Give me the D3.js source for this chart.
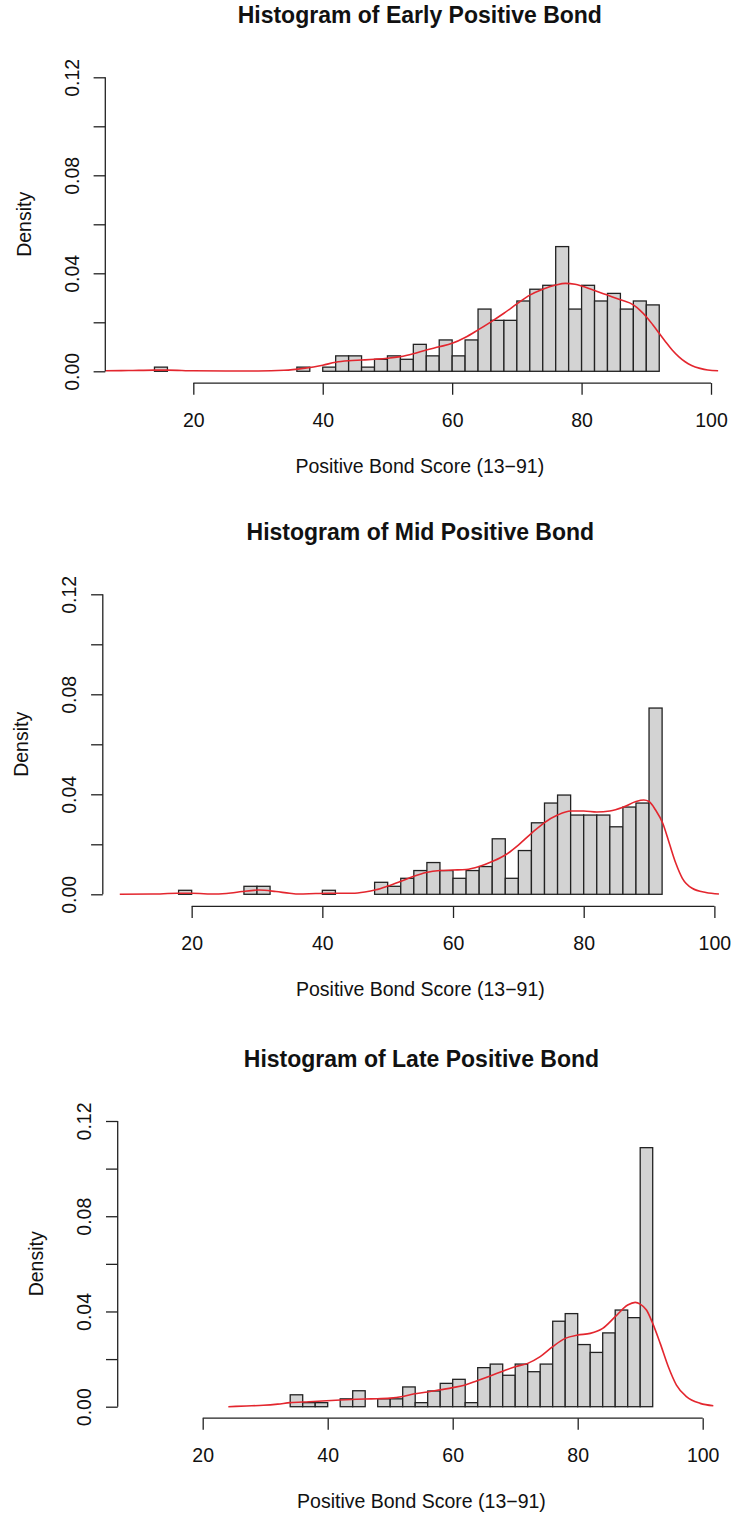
<!DOCTYPE html>
<html>
<head>
<meta charset="utf-8">
<script src="https://cdn.jsdelivr.net/npm/d3@7"></script>
<style>
  html, body { margin: 0; padding: 0; background: #fff; }
  svg { display: block; }
</style>
</head>
<body>
<svg id="chart" width="732" height="1515"></svg>
<script>
// ---- Histogram data: density of each 2-point bin, starting at the given left edge ----
const binWidth = 2;

const earlyBinStart = 14;
const earlyDensity = [
  0.0017, 0, 0, 0, 0, 0, 0, 0, 0, 0, 0,          // 14 .. 36
  0.0017, 0, 0.0017, 0.0063, 0.0063, 0.0017,      // 36 .. 48
  0.0049, 0.0063, 0.0049, 0.0110, 0.0063, 0.0128, // 48 .. 60
  0.0063, 0.0128, 0.0254, 0.0208, 0.0208, 0.0287, // 60 .. 72
  0.0335, 0.0351, 0.0509, 0.0254, 0.0351, 0.0287, // 72 .. 84
  0.0318, 0.0254, 0.0287, 0.0271                  // 84 .. 92
];

const midBinStart = 18;
const midDensity = [
  0.0016, 0, 0, 0, 0, 0.0032, 0.0032,             // 18 .. 32
  0, 0, 0, 0, 0.0016, 0, 0, 0,                    // 32 .. 48
  0.0048, 0.0032, 0.0064, 0.0095, 0.0127, 0.0095, // 48 .. 60
  0.0064, 0.0095, 0.0111, 0.0222, 0.0064, 0.0175, // 60 .. 72
  0.0286, 0.0365, 0.0397, 0.0317, 0.0317, 0.0317, // 72 .. 84
  0.0270, 0.0349, 0.0365, 0.0745                  // 84 .. 92
];

const lateBinStart = 34;
const lateDensity = [
  0.0050, 0.0017, 0.0017, 0, 0.0033, 0.0067, 0,   // 34 .. 48
  0.0033, 0.0033, 0.0083, 0.0017, 0.0066, 0.0098, // 48 .. 60
  0.0115, 0.0017, 0.0164, 0.0179, 0.0132, 0.0179, // 60 .. 72
  0.0147, 0.0179, 0.0359, 0.0391, 0.0261, 0.0228, // 72 .. 84
  0.0310, 0.0406, 0.0374, 0.1088                  // 84 .. 92
];

// ---- Kernel density estimates (score, density) ----
const earlyCurveX = [6.4, 10, 14, 16, 20, 25, 30, 34, 37, 40, 42, 44, 46, 48, 50, 52, 54, 56, 58, 60,
  62, 64, 66, 68, 70, 72, 74, 76, 77.5, 79, 80, 82, 84, 86, 88, 89, 90, 91, 92, 93, 94, 95, 96, 97, 98.3, 99.5, 101.1];
const earlyCurveY = [0.0002, 0.0003, 0.0005, 0.0005, 0.0002, 0.0001, 0.0001, 0.0004, 0.0012, 0.0025, 0.0037,
  0.0043, 0.0046, 0.0049, 0.0053, 0.0060, 0.0072, 0.0087, 0.0100, 0.0114, 0.0138, 0.0169, 0.0202, 0.0237,
  0.0275, 0.0311, 0.0335, 0.0352, 0.0359, 0.0355, 0.0348, 0.0330, 0.0311, 0.0292, 0.0271, 0.0250, 0.0223,
  0.0190, 0.0155, 0.0120, 0.0087, 0.0060, 0.0039, 0.0024, 0.0012, 0.0005, 0.0002];

const midCurveX = [9, 14, 17.8, 20, 23.7, 26, 27.7, 30.3, 32.9, 35, 36.4, 39, 41, 44.6, 46.5, 48.2, 50, 51.9,
  54, 55.9, 58, 60, 62, 64, 66, 68, 70, 72, 74, 76, 78, 80, 82, 84, 86, 88, 89.2, 90, 91, 92.1, 93.1, 94.1,
  95.1, 96.6, 98.7, 100.7];
const midCurveY = [0.0000, 0.0001, 0.0004, 0.0004, 0.0001, 0.0005, 0.0011, 0.0017, 0.0011, 0.0004, 0.0001,
  0.0003, 0.0004, 0.0004, 0.0009, 0.0018, 0.0033, 0.0051, 0.0072, 0.0087, 0.0095, 0.0097, 0.0099, 0.0111,
  0.0131, 0.0157, 0.0197, 0.0244, 0.0287, 0.0317, 0.0333, 0.0333, 0.0329, 0.0333, 0.0348, 0.0371, 0.0377,
  0.0371, 0.0337, 0.0284, 0.0204, 0.0124, 0.0064, 0.0024, 0.0007, 0.0001];

const lateCurveX = [24.1, 27, 29.7, 32, 34, 37, 39.8, 42, 44.6, 47, 50, 52, 53.7, 56, 58, 60, 62, 64, 66, 68,
  70, 72, 74, 76, 78, 80, 82, 84, 86, 88, 89.2, 90, 91, 92, 93.2, 94.5, 95.8, 97.4, 99.6, 101.7];
const lateCurveY = [0.0000, 0.0003, 0.0006, 0.0011, 0.0017, 0.0021, 0.0025, 0.0028, 0.0031, 0.0033, 0.0036,
  0.0043, 0.0053, 0.0062, 0.0071, 0.0080, 0.0091, 0.0110, 0.0129, 0.0149, 0.0168, 0.0182, 0.0210, 0.0252,
  0.0287, 0.0301, 0.0308, 0.0329, 0.0378, 0.0427, 0.0438, 0.0431, 0.0406, 0.0350, 0.0266, 0.0168, 0.0091,
  0.0042, 0.0014, 0.0004];

// ---- Axes ----
const xTicks = [20, 40, 60, 80, 100];
const yTicks = [0, 0.02, 0.04, 0.06, 0.08, 0.10, 0.12];
const yLabelTicks = [0, 0.04, 0.08, 0.12];
const xLimits = [10, 100];
const yLimits = [0, 0.12];
const xTitle = "Positive Bond Score (13\u221291)";
const yTitle = "Density";

// ---- Panel placement ----
const panels = [
  { title: "Histogram of Early Positive Bond", start: earlyBinStart, dens: earlyDensity,
    cx: earlyCurveX, cy: earlyCurveY, left: 105.3, right: 734.3, zeroY: 371.3, topY: 77.3 },
  { title: "Histogram of Mid Positive Bond", start: midBinStart, dens: midDensity,
    cx: midCurveX, cy: midCurveY, left: 102.8, right: 737.9, zeroY: 894.3, topY: 594.3 },
  { title: "Histogram of Late Positive Bond", start: lateBinStart, dens: lateDensity,
    cx: lateCurveX, cy: lateCurveY, left: 117.7, right: 725.2, zeroY: 1406.7, topY: 1121 }
];

const FONT = "'Liberation Sans', Arial, Helvetica, sans-serif";
const svg = d3.select("#chart");

panels.forEach(p => {
  // plot region padded by 4% on each side of the limits
  const xPad = (xLimits[1] - xLimits[0]) * 0.04;
  const yPad = (yLimits[1] - yLimits[0]) * 0.04;
  const x = d3.scaleLinear()
    .domain([xLimits[0] - xPad, xLimits[1] + xPad])
    .range([p.left, p.right]);
  const yBase = d3.scaleLinear().domain(yLimits).range([p.zeroY, p.topY]);
  const y = d3.scaleLinear()
    .domain([yLimits[0] - yPad, yLimits[1] + yPad])
    .range([yBase(yLimits[0] - yPad), yBase(yLimits[1] + yPad)]);

  const plotBottom = y.range()[0];
  const plotTop = y.range()[1];
  const g = svg.append("g");

  // histogram bars
  const bins = p.dens.map((d, i) => ({ x0: p.start + i * binWidth, x1: p.start + (i + 1) * binWidth, d }));
  g.append("g").selectAll("rect").data(bins).join("rect")
    .attr("x", b => x(b.x0))
    .attr("y", b => y(b.d))
    .attr("width", b => x(b.x1) - x(b.x0))
    .attr("height", b => y(0) - y(b.d))
    .attr("fill", "#d3d3d3")
    .attr("stroke", "#222")
    .attr("stroke-width", 1.3);

  // density curve
  const pts = p.cx.map((v, i) => [v, p.cy[i]]);
  g.append("path")
    .datum(pts)
    .attr("fill", "none")
    .attr("stroke", "#e3262e")
    .attr("stroke-width", 1.6)
    .attr("d", d3.line().x(d => x(d[0])).y(d => y(d[1])).curve(d3.curveMonotoneX));

  // x axis
  const xAxis = g.append("g")
    .attr("transform", `translate(0,${plotBottom})`)
    .call(d3.axisBottom(x).tickValues(xTicks).tickSize(11.7).tickSizeOuter(0).tickFormat(d3.format("d")));
  xAxis.select(".domain").remove();
  xAxis.append("line")
    .attr("x1", x(xTicks[0])).attr("x2", x(xTicks[xTicks.length - 1]))
    .attr("stroke", "#222").attr("stroke-width", 1.3);
  xAxis.selectAll(".tick line").attr("stroke", "#222").attr("stroke-width", 1.3);
  xAxis.selectAll(".tick text")
    .attr("y", 44).attr("dy", null)
    .attr("fill", "#111")
    .style("font-family", FONT).style("font-size", "19.5px");

  // y axis
  const yAxis = g.append("g")
    .attr("transform", `translate(${p.left},0)`)
    .call(d3.axisLeft(y).tickValues(yTicks).tickSize(11.7).tickSizeOuter(0)
      .tickFormat(v => yLabelTicks.some(t => Math.abs(t - v) < 1e-9) ? d3.format(".2f")(v) : ""));
  yAxis.select(".domain").remove();
  yAxis.append("line")
    .attr("y1", y(yTicks[0])).attr("y2", y(yTicks[yTicks.length - 1]))
    .attr("stroke", "#222").attr("stroke-width", 1.3);
  yAxis.selectAll(".tick line").attr("stroke", "#222").attr("stroke-width", 1.3);
  yAxis.selectAll(".tick text")
    .attr("x", null).attr("dy", null)
    .attr("transform", "translate(-26.5,0) rotate(-90)")
    .attr("text-anchor", "middle")
    .attr("fill", "#111")
    .style("font-family", FONT).style("font-size", "19.5px");

  const cx = (p.left + p.right) / 2;
  const cy = (plotTop + plotBottom) / 2;

  // titles
  g.append("text")
    .attr("x", cx).attr("y", plotTop - 42.8)
    .attr("text-anchor", "middle")
    .style("font-family", FONT).style("font-size", "23px").style("font-weight", "bold")
    .attr("fill", "#111")
    .text(p.title);

  g.append("text")
    .attr("x", cx).attr("y", plotBottom + 90)
    .attr("text-anchor", "middle")
    .style("font-family", FONT).style("font-size", "19.5px")
    .attr("fill", "#111")
    .text(xTitle);

  g.append("text")
    .attr("transform", `translate(${p.left - 74.5},${cy}) rotate(-90)`)
    .attr("text-anchor", "middle")
    .style("font-family", FONT).style("font-size", "19.5px")
    .attr("fill", "#111")
    .text(yTitle);
});
</script>
</body>
</html>
